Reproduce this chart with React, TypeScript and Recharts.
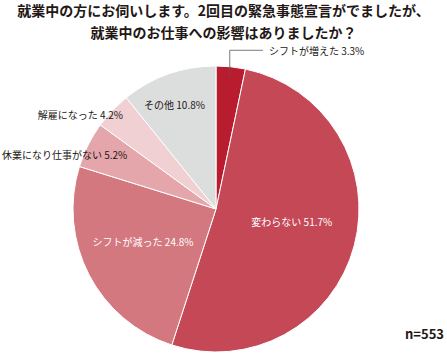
import React from "react";
import { PieChart, Pie, Cell } from "recharts";

const categories = ["シフトが増えた", "変わらない", "シフトが減った", "休業になり仕事がない", "解雇になった", "その他"];
const values = [3.3, 51.7, 24.8, 5.2, 4.2, 10.8];
const colors = ["#B81C2E", "#C54857", "#D47880", "#E4A5AB", "#F0D0D3", "#DCDDDD"];
const titleLines = ["就業中の方にお伺いします。2回目の緊急事態宣言がでましたが、", "就業中のお仕事への影響はありましたか？"];
const sampleNote = "n=553";

// label placement as fractions of radius relative to centre
const labelPlace = [
  { fx: 0.37, fy: -1.11, anchor: "start", white: false, leader: true },
  { fx: 0.53, fy: 0.09, anchor: "middle", white: true, leader: false },
  { fx: -0.51, fy: 0.23, anchor: "middle", white: true, leader: false },
  { fx: -0.62, fy: -0.38, anchor: "end", white: false, leader: false },
  { fx: -0.65, fy: -0.66, anchor: "end", white: false, leader: false },
  { fx: -0.29, fy: -0.73, anchor: "middle", white: false, leader: false },
];

const data = categories.map((name, i) => ({ name, value: values[i] }));

const FONT = "'Noto Sans CJK JP', 'Noto Sans', sans-serif";

const renderLabel = (props: any) => {
  const { cx, cy, outerRadius, index, midAngle } = props;
  const p = labelPlace[index];
  const x = cx + outerRadius * p.fx;
  const y = cy + outerRadius * p.fy;
  const text = `${categories[index]} ${values[index]}%`;
  let leader = null;
  if (p.leader) {
    const rad = (Math.PI / 180) * midAngle;
    const sx = cx + outerRadius * 0.93 * Math.cos(rad);
    const sy = cy - outerRadius * 0.93 * Math.sin(rad);
    leader = (
      <polyline
        points={`${sx},${sy} ${sx},${y} ${x - 6},${y}`}
        fill="none"
        stroke="#595757"
        strokeWidth={0.8}
      />
    );
  }
  return (
    <g key={`lbl-${index}`}>
      {leader}
      <text
        x={x}
        y={y}
        textAnchor={p.anchor}
        dominantBaseline="central"
        fill={p.white ? "#FFFFFF" : "#231815"}
        fontSize={10}
        fontFamily={FONT}
      >
        {text}
      </text>
    </g>
  );
};

export default function App() {
  return (
    <div style={{ position: "absolute", left: 0, top: 0, width: 447, height: 353, background: "#fff", fontFamily: FONT }}>
      {titleLines.map((t, i) => (
        <div
          key={i}
          style={{
            position: "absolute",
            left: 0,
            top: i * 22,
            width: 447,
            height: 20,
            textAlign: "center",
            fontWeight: 700,
            fontSize: 14,
            lineHeight: "20px",
            color: "#231815",
            whiteSpace: "nowrap",
          }}
        >
          {t}
        </div>
      ))}
      <div style={{ position: "absolute", left: 0, top: 0 }}>
        <PieChart width={447} height={353} margin={{ top: 0, right: 0, bottom: 0, left: 0 }}>
          <Pie
            data={data}
            dataKey="value"
            nameKey="name"
            cx={216}
            cy={209}
            outerRadius={143}
            startAngle={90}
            endAngle={-270}
            stroke="#ffffff"
            strokeWidth={1}
            label={renderLabel}
            labelLine={false}
            isAnimationActive={false}
          >
            {data.map((d, i) => (
              <Cell key={d.name} fill={colors[i]} />
            ))}
          </Pie>
        </PieChart>
      </div>
      <div style={{ position: "absolute", right: 3, top: 324, fontSize: 13, fontWeight: 700, color: "#231815" }}>{sampleNote}</div>
    </div>
  );
}
